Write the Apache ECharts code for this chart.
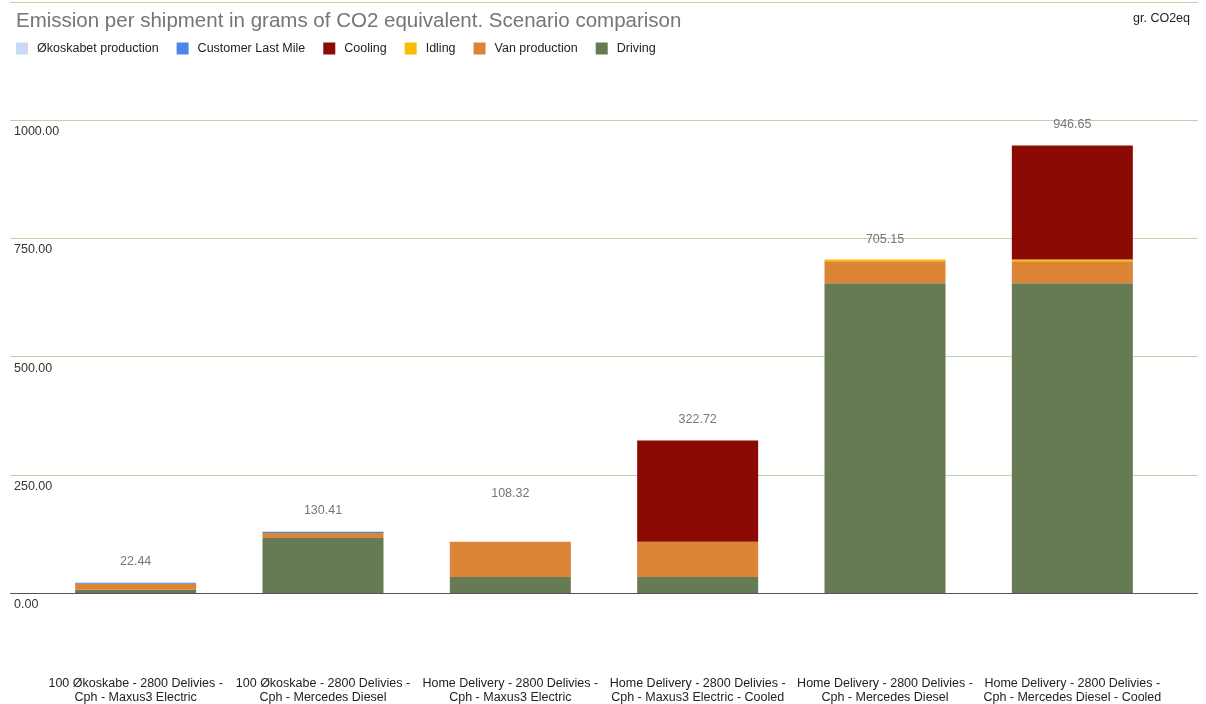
<!DOCTYPE html>
<html><head><meta charset="utf-8">
<script src="https://cdn.jsdelivr.net/npm/echarts@6/dist/echarts.min.js"></script>
<style>html,body{margin:0;padding:0;background:#fff}#c{width:1206px;height:704px}</style>
</head><body><div id="c"></div>
<script>
const categories = [
  '100 Økoskabe - 2800 Delivies -\nCph - Maxus3 Electric',
  '100 Økoskabe - 2800 Delivies -\nCph - Mercedes Diesel',
  'Home Delivery - 2800 Delivies -\nCph - Maxus3 Electric',
  'Home Delivery - 2800 Delivies -\nCph - Maxus3 Electric - Cooled',
  'Home Delivery - 2800 Delivies -\nCph - Mercedes Diesel',
  'Home Delivery - 2800 Delivies -\nCph - Mercedes Diesel - Cooled'
];
const driving        = [7, 116.5, 34, 34, 655, 655];
const vanProduction  = [12.5, 10.5, 74.32, 74.32, 46.65, 46.65];
const idling         = [0, 0, 0, 0, 3.5, 3.5];
const cooling        = [0, 0, 0, 214.4, 0, 241.5];
const customerLastMile = [2.2, 2.5, 0, 0, 0, 0];
const okoskabetProduction = [0.74, 0.91, 0, 0, 0, 0];
const totals = [22.44, 130.41, 108.32, 322.72, 705.15, 946.65];
const yTicks = [0, 250, 500, 750, 1000, 1250];

const colors = {
  'Økoskabet production': '#c9daf8',
  'Customer Last Mile': '#4a86e8',
  'Cooling': '#8b0a03',
  'Idling': '#fbbc04',
  'Van production': '#dd8537',
  'Driving': '#667a54'
};
const legendOrder = ['Økoskabet production','Customer Last Mile','Cooling','Idling','Van production','Driving'];
const stackSeries = [
  ['Driving', driving],
  ['Van production', vanProduction],
  ['Idling', idling],
  ['Cooling', cooling],
  ['Customer Last Mile', customerLastMile],
  ['Økoskabet production', okoskabetProduction]
];

const chart = echarts.init(document.getElementById('c'), null, {renderer: 'canvas'});
const font = 'Arial, "Liberation Sans", sans-serif';
const series = stackSeries.map(([name, data]) => ({
  name, type: 'bar', stack: 's', data, xAxisIndex: 1, yAxisIndex: 1,
  barWidth: 121, itemStyle: {color: colors[name]}, emphasis: {disabled: true}
}));
// total labels; the third one sits higher in the reference
series.push({
  name: 'Total', type: 'bar', stack: 's', xAxisIndex: 1, yAxisIndex: 1,
  data: totals.map((t, i) => i === 2 ? {value: 0, label: {offset: [0, -28]}} : 0),
  barWidth: 121, itemStyle: {color: 'transparent'},
  label: {show: true, position: 'top', distance: 14, color: '#757575', fontSize: 12.5, fontFamily: font,
    formatter: p => totals[p.dataIndex].toFixed(2)}
});

chart.setOption({
  animation: false,
  textStyle: {fontFamily: font},
  title: {text: 'Emission per shipment in grams of CO2 equivalent. Scenario comparison',
    left: 11, top: 6, textStyle: {fontSize: 20.5, fontWeight: 'normal', color: '#757575', fontFamily: font}},
  legend: {data: legendOrder, left: 11, top: 37, itemWidth: 12, itemHeight: 12, itemGap: 18, icon: 'rect',
    textStyle: {fontSize: 12.5, color: '#222', fontFamily: font, padding: [0, 0, 0, 4]}},
  grid: [
    {left: 10, right: 8, top: 2, bottom: 111, outerBoundsMode: 'none', containLabel: false},
    {left: 42, width: 1124, top: 2, bottom: 111, outerBoundsMode: 'none', containLabel: false}
  ],
  xAxis: [
    {type: 'category', gridIndex: 0, data: [''], axisLine: {show: false},
      axisTick: {show: false}, axisLabel: {show: false}},
    {type: 'category', gridIndex: 1, data: categories, axisLine: {show: false}, axisTick: {show: false},
      axisLabel: {margin: 84, color: '#222', fontSize: 12.5, lineHeight: 14, fontFamily: font, interval: 0}}
  ],
  yAxis: [
    {type: 'value', gridIndex: 0, min: yTicks[0], max: yTicks[yTicks.length-1], interval: 250,
      splitLine: {lineStyle: {color: '#b6d7a8', width: 1}},
      axisLine: {show: false}, axisTick: {show: false},
      axisLabel: {inside: true, verticalAlign: 'top', margin: 4, color: '#333', fontSize: 12.5, fontFamily: font,
        padding: [5, 0, 0, 0],
        formatter: v => v === 1250 ? '' : v.toFixed(2)}},
    {type: 'value', gridIndex: 1, min: yTicks[0], max: yTicks[yTicks.length-1], interval: 250,
      show: false, splitLine: {show: false}}
  ],
  series
});
// baseline line drawn through the value axis's own zero
const zeroY = chart.convertToPixel({yAxisIndex: 1}, 0);
chart.setOption({graphic: [
  {type: 'text', right: 16, top: 12, style: {text: 'gr. CO2eq', fontSize: 12.5, fill: '#222', font: '12.5px Arial, "Liberation Sans", sans-serif'}},
  {type: 'line', z: 10, shape: {x1: 10, y1: Math.round(zeroY) + 0.5, x2: 1198, y2: Math.round(zeroY) + 0.5}, style: {stroke: '#555', lineWidth: 1}}
]});
</script></body></html>
